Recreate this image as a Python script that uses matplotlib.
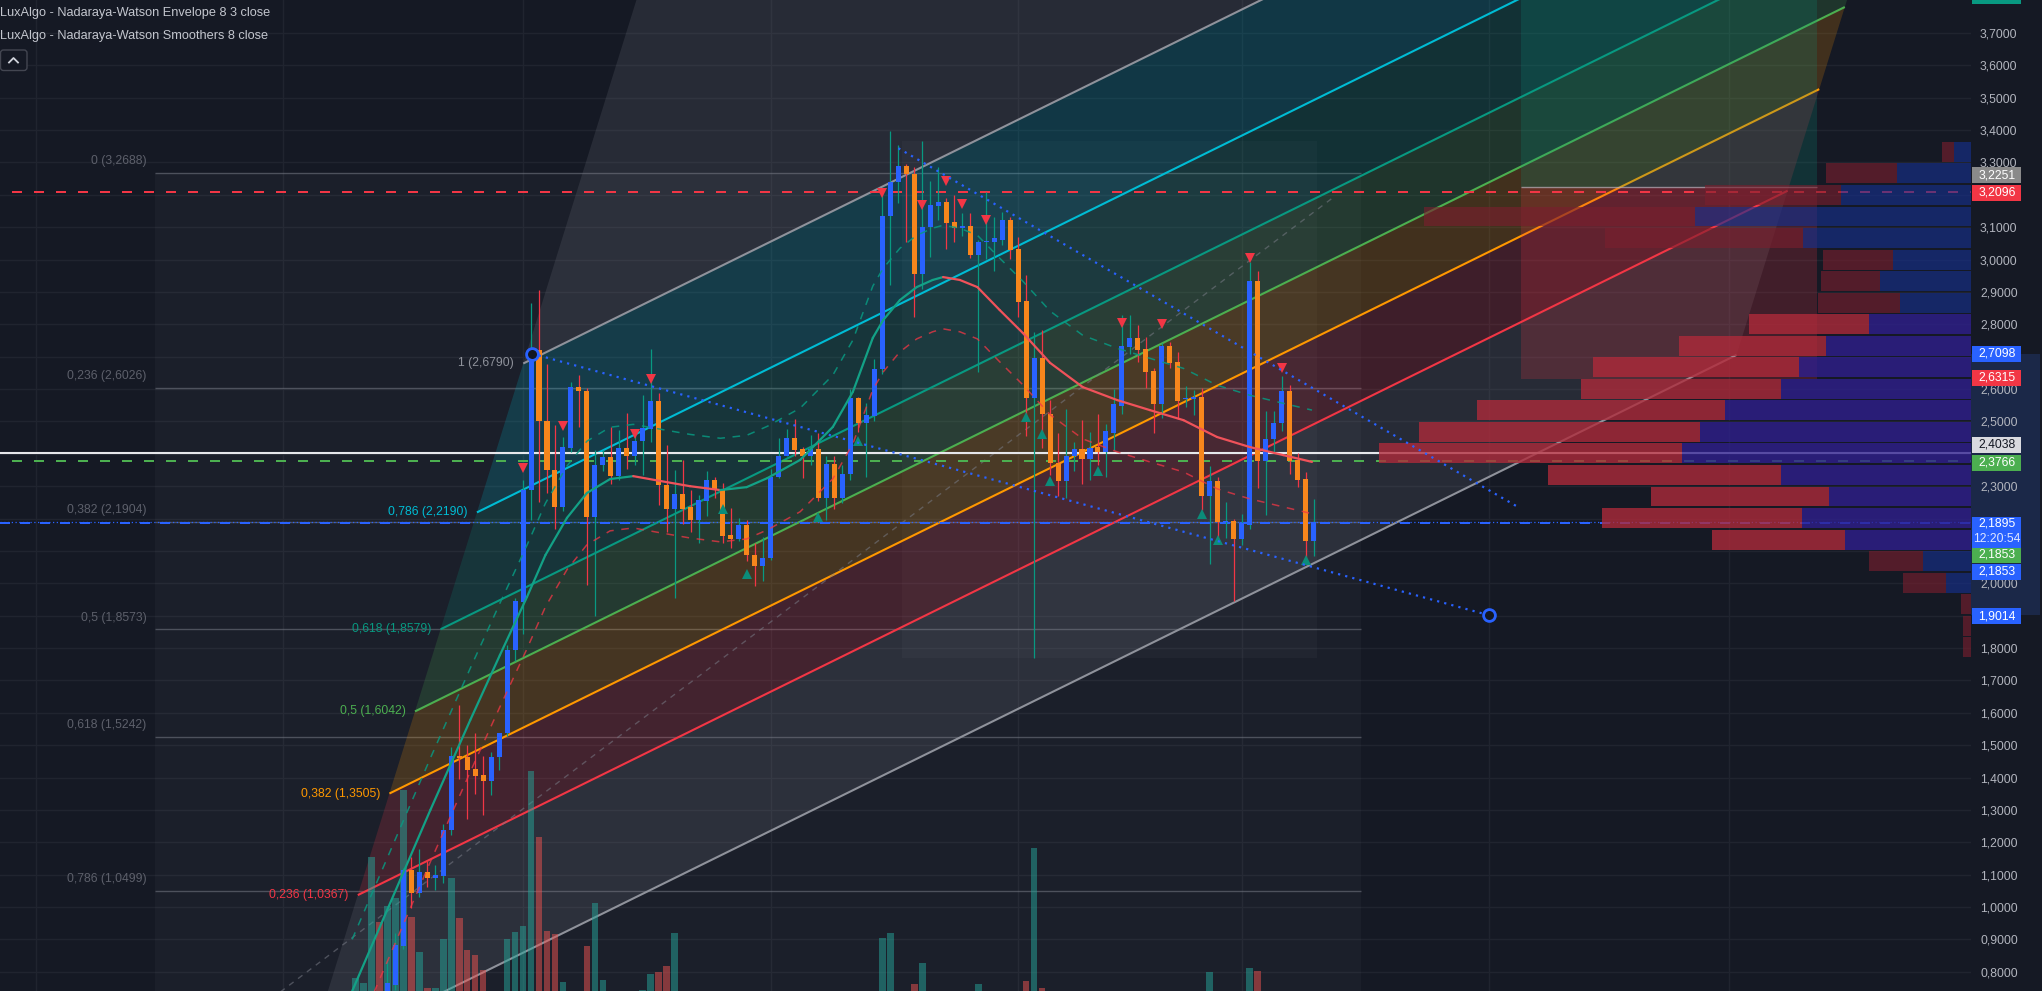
import matplotlib
matplotlib.use("Agg")
import matplotlib.pyplot as plt
import matplotlib.transforms as mtransforms
from matplotlib.patches import Rectangle, Polygon, FancyBboxPatch
from matplotlib.lines import Line2D
from matplotlib.ticker import FuncFormatter
import numpy as np

plt.rcParams['font.family'] = ['Liberation Sans', 'DejaVu Sans']

# ---------------------------------------------------------------- data
opens = [0.60, 0.65, 0.68, 0.72,
         .71, .758, .880, 1.115, 1.042, 1.108, 1.090, 1.097, 1.239, 1.466,
         1.463, 1.427, 1.407, 1.389, 1.462, 1.536, 1.793, 1.942, 2.288, 2.720,
         2.502, 2.351, 2.236, 2.419, 2.605, 2.595, 2.206, 2.365, 2.390, 2.332,
         2.419, 2.394, 2.441, 2.476, 2.564, 2.303, 2.229, 2.275, 2.235, 2.196,
         2.255, 2.320, 2.290, 2.150, 2.138, 2.181, 2.086, 2.053, 2.077, 2.327,
         2.394, 2.448, 2.414, 2.392, 2.414, 2.264, 2.368, 2.264, 2.337, 2.571,
         2.496, 2.516, 2.662, 3.136, 3.239, 3.289, 3.263, 2.954, 3.100, 3.165,
         3.177, 3.117, 3.097, 3.105, 3.014, 3.053, 3.054, 3.062, 3.122, 3.033,
         2.872, 2.573, 2.697, 2.522, 2.372, 2.316, 2.393, 2.415, 2.384, 2.420,
         2.406, 2.464, 2.548, 2.731, 2.758, 2.724, 2.656, 2.555, 2.734, 2.683,
         2.569, 2.570, 2.574, 2.270, 2.315, 2.189, 2.191, 2.136, 2.180, 2.934,
         2.379, 2.447, 2.494, 2.593, 2.382, 2.322, 2.132]
highs = [0.66, 0.70, 0.73, 0.73,
         .835, .919, 1.12, 1.155, 1.178, 1.143, 1.130, 1.256, 1.494, 1.623,
         1.501, 1.536, 1.466, 1.480, 1.539, 1.809, 1.956, 2.320, 2.867, 2.906,
         2.678, 2.489, 2.453, 2.622, 2.643, 2.603, 2.411, 2.411, 2.482, 2.475,
         2.525, 2.470, 2.581, 2.724, 2.587, 2.428, 2.350, 2.381, 2.288, 2.274,
         2.346, 2.327, 2.311, 2.233, 2.203, 2.194, 2.125, 2.144, 2.353, 2.450,
         2.476, 2.506, 2.420, 2.457, 2.463, 2.392, 2.392, 2.366, 2.600, 2.577,
         2.558, 2.694, 3.208, 3.397, 3.354, 3.294, 3.285, 3.366, 3.242, 3.285,
         3.191, 3.200, 3.143, 3.143, 3.062, 3.208, 3.131, 3.148, 3.131, 3.071,
         2.951, 2.776, 2.782, 2.565, 2.465, 2.539, 2.436, 2.504, 2.467, 2.524,
         2.491, 2.599, 2.829, 2.829, 2.799, 2.761, 2.664, 2.743, 2.746, 2.713,
         2.609, 2.597, 2.604, 2.363, 2.327, 2.252, 2.199, 2.214, 2.994, 2.964,
         2.533, 2.533, 2.641, 2.614, 2.404, 2.345, 2.259]
lows = [0.58, 0.63, 0.66, 0.67,
        .70, .745, .87, .996, 1.031, 1.062, 1.052, 1.074, 1.221, 1.396,
        1.272, 1.350, 1.284, 1.347, 1.424, 1.529, 1.760, 1.844, 2.194, 2.250,
        2.278, 2.169, 2.222, 2.405, 2.482, 1.995, 1.900, 2.348, 2.306, 2.320,
        2.353, 2.366, 2.333, 2.437, 2.242, 2.157, 1.955, 2.183, 2.157, 2.125,
        2.209, 2.262, 2.125, 2.109, 2.131, 2.069, 1.991, 2.008, 2.073, 2.324,
        2.392, 2.394, 2.324, 2.366, 2.255, 2.196, 2.229, 2.249, 2.320, 2.467,
        2.327, 2.502, 2.645, 2.920, 3.174, 3.054, 2.822, 2.908, 3.007, 3.122,
        3.033, 3.054, 3.074, 3.006, 2.654, 3.002, 2.964, 3.045, 3.002, 2.822,
        2.456, 1.770, 2.419, 2.333, 2.269, 2.264, 2.347, 2.307, 2.319, 2.364,
        2.327, 2.413, 2.524, 2.709, 2.683, 2.604, 2.465, 2.510, 2.664, 2.507,
        2.544, 2.519, 2.225, 2.060, 2.132, 2.139, 1.944, 2.117, 2.169, 2.294,
        2.210, 2.401, 2.469, 2.339, 2.297, 2.072, 2.084]
closes = [0.65, 0.69, 0.72, 0.70,
          .765, .884, 1.115, 1.042, 1.108, 1.090, 1.099, 1.239, 1.466, 1.459,
          1.424, 1.406, 1.389, 1.463, 1.536, 1.795, 1.945, 2.288, 2.706, 2.502,
          2.351, 2.236, 2.421, 2.605, 2.595, 2.206, 2.365, 2.390, 2.332, 2.419,
          2.394, 2.441, 2.480, 2.564, 2.303, 2.229, 2.275, 2.229, 2.196, 2.258,
          2.320, 2.288, 2.147, 2.138, 2.181, 2.086, 2.053, 2.077, 2.327, 2.394,
          2.448, 2.411, 2.392, 2.415, 2.264, 2.368, 2.264, 2.337, 2.571, 2.496,
          2.519, 2.661, 3.136, 3.239, 3.289, 3.263, 2.954, 3.100, 3.169, 3.177,
          3.114, 3.097, 3.105, 3.014, 3.054, 3.057, 3.068, 3.122, 3.031, 2.868,
          2.573, 2.697, 2.522, 2.372, 2.316, 2.393, 2.415, 2.384, 2.417, 2.406,
          2.469, 2.554, 2.734, 2.758, 2.721, 2.653, 2.555, 2.734, 2.682, 2.563,
          2.572, 2.575, 2.270, 2.315, 2.189, 2.191, 2.136, 2.185, 2.934, 2.379,
          2.447, 2.494, 2.593, 2.379, 2.319, 2.132, 2.1895]
volumes = [1.3, 0.8, 13.4, 6.9,
           8.5, 9.3, 20.1, 7.4, 3.9, 0.3, 0.3, 5.2, 11.3, 7.3,
           4.1, 3.6, 2.1, 0, 0, 5.2, 5.9, 6.5, 22.0, 15.4,
           6.0, 5.7, 0.9, 0, 0, 4.5, 8.8, 1.1, 0, 0,
           0, 0, 0.1, 1.7, 1.9, 2.5, 5.8, 0, 0, 0,
           0, 0, 0, 0, 0, 0, 0, 0, 0, 0,
           0, 0, 0, 0, 0, 0, 0, 0, 0, 0,
           0, 0, 5.3, 5.8, 0, 0, 0.7, 2.8, 0, 0,
           0, 0, 0, 0, 0.7, 0, 0, 0, 0, 0,
           1.0, 14.3, 0.3, 0, 0, 0, 0, 0, 0, 0,
           0, 0, 0, 0, 0, 0, 0, 0, 0, 0,
           0, 0, 0, 1.9, 0, 0, 0, 0, 2.3, 2.0,
           0, 0, 0, 0, 0, 0, 0]

# Nadaraya-Watson smoother and envelope
nw_idx = [-0.4, 5.6, 9.4, 14.4, 18.1, 21.5, 23.8, 26.5, 29.0, 31.9, 34.8, 38.2, 41.9,
          45.7, 49.0, 51.6, 55.7, 59.8, 62.3, 64.8, 66.1, 68.2, 70.3, 72.3, 73.6,
          75.7, 77.9, 80.7, 83.6, 87.0, 91.1, 95.4, 99.5, 103.7, 107.9, 112.0, 116.2, 119.8]
nw_val = [0.740, 1.083, 1.300, 1.578, 1.778, 1.958, 2.087, 2.202, 2.279, 2.322, 2.331,
          2.316, 2.300, 2.288, 2.297, 2.325, 2.381, 2.483, 2.591, 2.758, 2.813, 2.875,
          2.915, 2.937, 2.946, 2.937, 2.915, 2.844, 2.773, 2.681, 2.606, 2.566, 2.535,
          2.504, 2.452, 2.421, 2.396, 2.375]
env_upper = [0.900, 1.243, 1.460, 1.738, 1.938, 2.118, 2.247, 2.362, 2.439, 2.482, 2.491,
             2.476, 2.460, 2.448, 2.457, 2.485, 2.541, 2.643, 2.751, 2.918, 2.973, 3.035,
             3.075, 3.097, 3.106, 3.097, 3.075, 3.004, 2.933, 2.841, 2.766, 2.726, 2.695,
             2.664, 2.612, 2.581, 2.556, 2.535]
env_lower = [0.580, 0.923, 1.140, 1.418, 1.618, 1.798, 1.927, 2.042, 2.119, 2.162, 2.171,
             2.156, 2.140, 2.128, 2.137, 2.165, 2.221, 2.323, 2.431, 2.598, 2.653, 2.715,
             2.755, 2.777, 2.786, 2.777, 2.755, 2.684, 2.613, 2.521, 2.446, 2.406, 2.375,
             2.344, 2.292, 2.261, 2.236, 2.215]

# signal triangles
sig_dn_idx = [21, 26, 35, 37, 66, 71, 74, 76, 79, 96, 101, 112, 116]
sig_dn_price = [2.355, 2.486, 2.461, 2.630, 3.207, 3.170, 3.244, 3.172, 3.122, 2.803, 2.801, 3.004, 2.664]
sig_up_idx = [46, 49, 58, 63, 84, 86, 87, 93, 106, 108, 119]
sig_up_price = [2.228, 2.030, 2.206, 2.440, 2.513, 2.461, 2.317, 2.348, 2.214, 2.133, 2.071]

# fib retracement
fib_ret_levels = [0, 0.236, 0.382, 0.5, 0.618, 0.786]
fib_ret_prices = [3.2688, 2.6026, 2.1904, 1.8573, 1.5242, 1.0499]
fib_ret_one = 0.4458
fib_ret_x = (-25.09, 125.95)

# fib channel
ch_levels = [0, 0.236, 0.382, 0.5, 0.618, 0.786, 1]
ch_colors = ['#787b86', '#f23645', '#ff9800', '#4caf50', '#089981', '#00bcd4', '#787b86']
ch_top_level = 1.618
ch_anchor0 = (-6.094, 0.5294)   # level 0, left end
ch_anchor1 = (21.03, 2.679)     # level 1, left end
ch_length = 179.06              # bars
ch_rise = 2.176                 # price
ch_base = ([-12.0, 122.7], [0.689, 3.1964])

# trend lines
trend_a = ([22.08, 141.96], [2.7098, 1.9014])
trend_b = ([68.0, 145.5], [3.344, 2.237])

# horizontal levels
lvl_red = 3.2096
lvl_white = 2.4038
lvl_green = 2.3766
lvl_blue = 2.1853
last_price = 2.1895

# rectangles
range_box = (68.42, 120.39, 1.768, 3.366)
long_pos = (145.98, 183.05, 2.6315, 3.2251, 3.82)

# visible range volume profile (24 rows, top -> bottom)
prof_top, prof_bottom = 3.366, 1.769
prof_up = [1.7, 7.4, 13.0, 27.6, 16.8, 7.8, 9.1, 7.1, 10.2, 14.5, 17.2, 19.0,
           24.6, 27.1, 28.9, 19.0, 14.2, 16.9, 12.6, 4.8, 2.5, 0, 0, 0]
prof_down = [1.2, 7.1, 13.6, 27.1, 19.8, 7.0, 5.9, 8.2, 12.0, 14.7, 20.6, 20.0,
             24.8, 28.1, 30.3, 23.3, 17.8, 20.0, 13.3, 5.4, 4.3, 1.0, 0.8, 0.8]
va_rows = (8, 18)

month_idx = [-40, -9, 21, 52, 83, 111, 142, 172]
price_ticks = [round(0.8 + 0.1 * k, 1) for k in range(30)]
hidden_tick_labels = [3.2, 2.7, 2.4, 2.2, 2.1, 1.9]   # covered by price labels

# ---------------------------------------------------------------- style
BG = '#151924'
UP = '#2962ff'
DN = '#f7861c'
WUP = '#089981'
WDN = '#f23645'


def cfmt(v, nd=4):
    return f"{v:.{nd}f}".replace('.', ',')


def lfmt(v):
    s = f"{v:g}"
    return s.replace('.', ',')


def tick_fmt(v, p):
    if any(abs(v - h) < 1e-6 for h in hidden_tick_labels):
        return ''
    return cfmt(v)


fig = plt.figure(figsize=(20.42, 9.91), dpi=100)
fig.patch.set_facecolor(BG)
ax = fig.add_axes([0, 0, 1971 / 2042, 1])
ax.set_facecolor(BG)
ax.set_xlim(-44.50, 202.33)
ax.set_ylim(0.7405, 3.8019)
for s in ax.spines.values():
    s.set_visible(False)
ax.yaxis.tick_right()
ax.set_yticks(price_ticks)
ax.yaxis.set_major_formatter(FuncFormatter(tick_fmt))
ax.tick_params(axis='y', length=0, pad=6.5, labelsize=8.7, labelcolor='#b2b5be')
ax.set_xticks(month_idx)
ax.tick_params(axis='x', length=0, labelbottom=False)
ax.grid(True, color='#20242f', lw=1.0)
ax.set_axisbelow(True)

# fib retracement
ax.add_patch(Rectangle((fib_ret_x[0], fib_ret_one), fib_ret_x[1] - fib_ret_x[0],
                       fib_ret_prices[0] - fib_ret_one, facecolor='#787b86', alpha=0.07,
                       lw=0, zorder=1))
for lv, pr in zip(fib_ret_levels, fib_ret_prices):
    ax.hlines(pr, fib_ret_x[0], fib_ret_x[1], color='#787b86', alpha=0.55, lw=1, zorder=1.2)
    ax.annotate(f"{lfmt(lv)} ({cfmt(pr)})", xy=(fib_ret_x[0], pr), xytext=(-6, 8.6),
                textcoords='offset points', ha='right', va='center', fontsize=8.7,
                color='#5d606b', zorder=10)

# range box
ax.add_patch(Rectangle((range_box[0], range_box[2]), range_box[1] - range_box[0],
                       range_box[3] - range_box[2], facecolor='#787b86', alpha=0.07,
                       lw=0, zorder=1.1))


# fib channel
def ch_left(f):
    return (ch_anchor0[0] + (ch_anchor1[0] - ch_anchor0[0]) * f,
            ch_anchor0[1] + (ch_anchor1[1] - ch_anchor0[1]) * f)


band_levels = ch_levels + [ch_top_level]
for k in range(len(band_levels) - 1):
    fa, fb = band_levels[k], band_levels[k + 1]
    la, lb = ch_left(fa), ch_left(fb)
    verts = [la, lb, (lb[0] + ch_length, lb[1] + ch_rise), (la[0] + ch_length, la[1] + ch_rise)]
    ax.add_patch(Polygon(verts, closed=True, facecolor=ch_colors[k], alpha=0.19, lw=0, zorder=1.5))
for f, col in zip(ch_levels, ch_colors):
    l = ch_left(f)
    ax.plot([l[0], l[0] + ch_length], [l[1], l[1] + ch_rise], color=col if f not in (0, 1) else '#8f929b',
            lw=1.5, zorder=2, solid_capstyle='butt')
    if f > 0:
        ax.annotate(f"{lfmt(f)} ({cfmt(l[1])})", xy=l, xytext=(-6.5, 0), textcoords='offset points',
                    ha='right', va='center', fontsize=8.7,
                    color=col if f != 1 else '#8f929b', zorder=10)
ax.plot(ch_base[0], ch_base[1], color='#787b86', alpha=0.55, lw=1, ls=(0, (4, 4)), zorder=2)

# long position
lp = long_pos
ax.add_patch(Rectangle((lp[0], lp[3]), lp[1] - lp[0], lp[4] - lp[3], facecolor='#089981',
                       alpha=0.2, lw=0, zorder=2.2))
ax.add_patch(Rectangle((lp[0], lp[2]), lp[1] - lp[0], lp[3] - lp[2], facecolor='#f23645',
                       alpha=0.2, lw=0, zorder=2.2))
ax.hlines(lp[3], lp[0], lp[1], color='#b2b5be', alpha=0.7, lw=1, zorder=2.3)

# volume bars
vtrans = mtransforms.blended_transform_factory(ax.transData, ax.transAxes)
VOL_SPAN = 99.1
for i, v in enumerate(volumes):
    if v <= 0:
        continue
    up = closes[i] >= opens[i]
    ax.add_patch(Rectangle((i - 0.42, 0), 0.84, v / VOL_SPAN, transform=vtrans,
                           facecolor='#26a69a' if up else '#ef5350', alpha=0.5, lw=0, zorder=2.5))

# horizontal levels
xl = ax.get_xlim()
ax.hlines(lvl_red, xl[0] + 1.5, xl[1], color='#f23645', lw=1.44, linestyles=(0, (5, 6)), zorder=3)
ax.hlines(lvl_green, xl[0] + 1.5, xl[1], color='#4caf50', lw=1.44, linestyles=(0, (5, 6)), zorder=3)
ax.hlines(lvl_white, xl[0], xl[1], color='#e6e7eb', lw=1.5, zorder=3)
ax.hlines(lvl_blue, xl[0], xl[1], color='#2962ff', lw=1.44, linestyles=(0, (5, 5)), zorder=3)
ax.hlines(last_price, xl[0], xl[1], color='#2962ff', lw=0.9, linestyles=(0, (1, 2)), zorder=3)

# volume profile
ptrans = mtransforms.blended_transform_factory(ax.transAxes, ax.transData)
PROF_SPAN = 197.1
rh = (prof_top - prof_bottom) / len(prof_up)
for k, (u, d) in enumerate(zip(prof_up, prof_down)):
    y0 = prof_top - (k + 1) * rh + 0.0025
    hh = rh - 0.005
    in_va = va_rows[0] <= k <= va_rows[1]
    cu = '#2f1f8f' if in_va else '#163090'
    cd = '#b02a3a' if in_va else '#7a1f2e'
    au = 0.78 if in_va else 0.62
    ad = 0.78 if in_va else 0.62
    if u > 0:
        ax.add_patch(Rectangle((1 - u / PROF_SPAN, y0), u / PROF_SPAN, hh, transform=ptrans,
                               facecolor=cu, alpha=au, lw=0, zorder=4))
    if d > 0:
        ax.add_patch(Rectangle((1 - (u + d) / PROF_SPAN, y0), d / PROF_SPAN, hh, transform=ptrans,
                               facecolor=cd, alpha=ad, lw=0, zorder=4))

# candles
for i, (o, h, l, c) in enumerate(zip(opens, highs, lows, closes)):
    up = c >= o
    ax.vlines(i, l, h, color=WUP if up else WDN, lw=0.9, zorder=6)
    ax.add_patch(Rectangle((i - 0.315, min(o, c)), 0.63, max(abs(c - o), 0.003),
                           facecolor=UP if up else DN, lw=0, zorder=6.5))

# NW envelope + smoother
ax.plot(nw_idx, env_upper, color='#089981', lw=1.1, ls=(0, (5, 5)), alpha=0.85, zorder=7)
ax.plot(nw_idx, env_lower, color='#f23645', lw=1.1, ls=(0, (5, 5)), alpha=0.75, zorder=7)
for k in range(len(nw_idx) - 1):
    col = '#13a186' if nw_val[k + 1] >= nw_val[k] else '#f0525a'
    ax.plot(nw_idx[k:k + 2], nw_val[k:k + 2], color=col, lw=1.6, zorder=7.2,
            solid_capstyle='round')

# signals
ax.plot(sig_dn_idx, sig_dn_price, 'v', color='#f23645', ms=7.5, mew=0, zorder=8)
ax.plot(sig_up_idx, sig_up_price, '^', color='#0b8c79', ms=7.5, mew=0, zorder=8)

# trend lines
ax.plot(trend_a[0], trend_a[1], color='#2962ff', lw=1.6, ls=(0, (1, 2.3)), zorder=8.5)
ax.plot(trend_b[0], trend_b[1], color='#2962ff', lw=1.6, ls=(0, (1, 2.3)), zorder=8.5)
ax.plot([trend_a[0][0], trend_a[0][1]], [trend_a[1][0], trend_a[1][1]], 'o', ms=8.5,
        mfc='#131722', mec='#2962ff', mew=2.0, zorder=9)

# ---------------------------------------------------------------- price axis labels
ident = mtransforms.IdentityTransform()
fig.canvas.draw()


def ypix(p):
    return ax.transData.transform((0, p))[1]


fig.add_artist(Rectangle((1971, ypix(1.9014)), 69, ypix(2.7098) - ypix(1.9014), transform=ident,
                         facecolor='#1b2848', lw=0, zorder=-1))

axis_labels = [(3.2251, '#8a8a8a', 'white', -11.7),
               (3.2096, '#f23645', 'white', 1.0),
               (2.7098, '#2962ff', 'white', 0.0),
               (2.6315, '#f23645', 'white', -1.0),
               (2.4038, '#d9dadf', '#131722', -7.6),
               (2.3766, '#4caf50', 'white', 1.3),
               (2.1853, '#4caf50', 'white', 31.4),
               (2.1853, '#2962ff', 'white', 48.5),
               (1.9014, '#2962ff', 'white', 1.0)]
for pr, bgc, tc, off in axis_labels:
    yc = ypix(pr) - off
    fig.add_artist(Rectangle((1972, yc - 8), 49, 16, transform=ident, facecolor=bgc, lw=0, zorder=5))
    fig.text(1997, yc, cfmt(pr), transform=ident, ha='center', va='center', fontsize=8.7,
             color=tc, zorder=6)
# target label of the long position, mostly above the top edge
fig.add_artist(Rectangle((1972, ypix(3.8142) - 8), 49, 16, transform=ident, facecolor='#089981',
                         lw=0, zorder=5))
yc = ypix(last_price) - 1.6
fig.add_artist(Rectangle((1972, yc - 24.5), 49, 31, transform=ident, facecolor='#2962ff', lw=0, zorder=5))
fig.text(1997, yc, cfmt(last_price), transform=ident, ha='center', va='center', fontsize=8.7,
         color='white', zorder=6)
fig.text(1997, yc - 15.5, '12:20:54', transform=ident, ha='center', va='center', fontsize=8.7,
         color='#dfe6ff', zorder=6)

# legend
fig.text(0, 991 - 12.7, 'LuxAlgo - Nadaraya-Watson Envelope 8 3 close', transform=ident,
         ha='left', va='center', fontsize=9.2, color='#c3c6ce', zorder=6)
fig.text(0, 991 - 36, 'LuxAlgo - Nadaraya-Watson Smoothers 8 close', transform=ident,
         ha='left', va='center', fontsize=9.2, color='#c3c6ce', zorder=6)
fig.add_artist(FancyBboxPatch((0.5, 991 - 70.5), 26.5, 20.5, boxstyle='round,pad=0,rounding_size=3',
                              transform=ident, facecolor=BG, edgecolor='#434651', lw=1, zorder=6))
fig.add_artist(Line2D([9, 13.5, 18], [991 - 62.5, 991 - 58, 991 - 62.5], transform=ident,
                      color='#d1d4dc', lw=1.3, zorder=7))

fig.savefig('out.png', dpi=100, facecolor=BG)
